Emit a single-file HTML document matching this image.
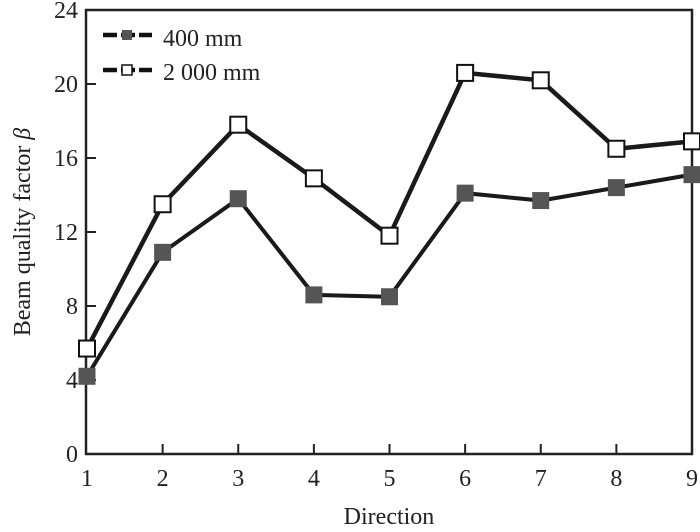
<!DOCTYPE html>
<html><head><meta charset="utf-8"><style>
html,body{margin:0;padding:0;background:#fff}
svg text{font-family:"Liberation Serif",serif;fill:#222}
</style></head><body>
<svg width="700" height="527" viewBox="0 0 700 527">
<rect x="86" y="10" width="606" height="444" fill="none" stroke="#222" stroke-width="2.5"/>
<g id="axes"></g>
<g id="series"></g>
<g>
<line x1="103" y1="35" x2="152" y2="35" stroke="#111" stroke-width="4.5" stroke-dasharray="14,4"/>
<rect x="122" y="30" width="10" height="10" fill="#555"/>
<text x="163" y="46" font-size="24">400 mm</text>
<line x1="103" y1="70" x2="152" y2="70" stroke="#111" stroke-width="4.5" stroke-dasharray="14,4"/>
<rect x="122" y="65" width="10" height="10" fill="#fff" stroke="#111" stroke-width="1.5"/>
<text x="163" y="80" font-size="24">2 000 mm</text>
</g>
<text x="389" y="524" font-size="24" text-anchor="middle">Direction</text>
<text transform="translate(30,232) rotate(-90)" font-size="24" text-anchor="middle">Beam quality factor <tspan font-style="italic">β</tspan></text>
</svg>
<script>
const categories=[1,2,3,4,5,6,7,8,9];
const series400=[4.2,10.9,13.8,8.6,8.5,14.1,13.7,14.4,15.1];
const series2000=[5.7,13.5,17.8,14.9,11.8,20.6,20.2,16.5,16.9];
const yTicks=[0,4,8,12,16,20,24];
const NS="http://www.w3.org/2000/svg";
const X=v=>87+(v-1)*(692-87)/8;
const Y=v=>454-v*(444/24);
const axes=document.getElementById('axes');
const ser=document.getElementById('series');
function mk(tag,attrs,parent){const e=document.createElementNS(NS,tag);for(const k in attrs)e.setAttribute(k,attrs[k]);parent.appendChild(e);return e;}
yTicks.forEach(t=>{
  const l=mk('line',{x1:86,x2:96,y1:Y(t),y2:Y(t),stroke:'#222','stroke-width':2},axes);
  
  
  const tx=mk('text',{x:78,y:Y(t)+8,'font-size':24,'text-anchor':'end'},axes);
  tx.textContent=t;
  
  
});
categories.forEach(c=>{
  if(c>1&&c<9){
  const l=mk('line',{x1:X(c),x2:X(c),y1:444,y2:454,stroke:'#222','stroke-width':2},axes);
  
  }
  const tx=mk('text',{x:X(c),y:486,'font-size':24,'text-anchor':'middle'},axes);
  tx.textContent=c;
  
  
});
function draw(vals,fill,name,sw){
  const pl=mk('polyline',{points:vals.map((v,i)=>X(categories[i])+','+Y(v)).join(' '),fill:'none',stroke:'#1a1a1a','stroke-width':sw},ser);
  
  
  vals.forEach((v,i)=>{
    const r=mk('rect',{x:X(categories[i])-8,y:Y(v)-8,width:16,height:16,fill:fill,stroke:fill=='#fff'?'#111':'#555','stroke-width':fill=='#fff'?2:1},ser);
    
    
  });
}
draw(series2000,'#fff','series-2000',4.5);
draw(series400,'#555','series-400',4);
</script>
</body></html>
